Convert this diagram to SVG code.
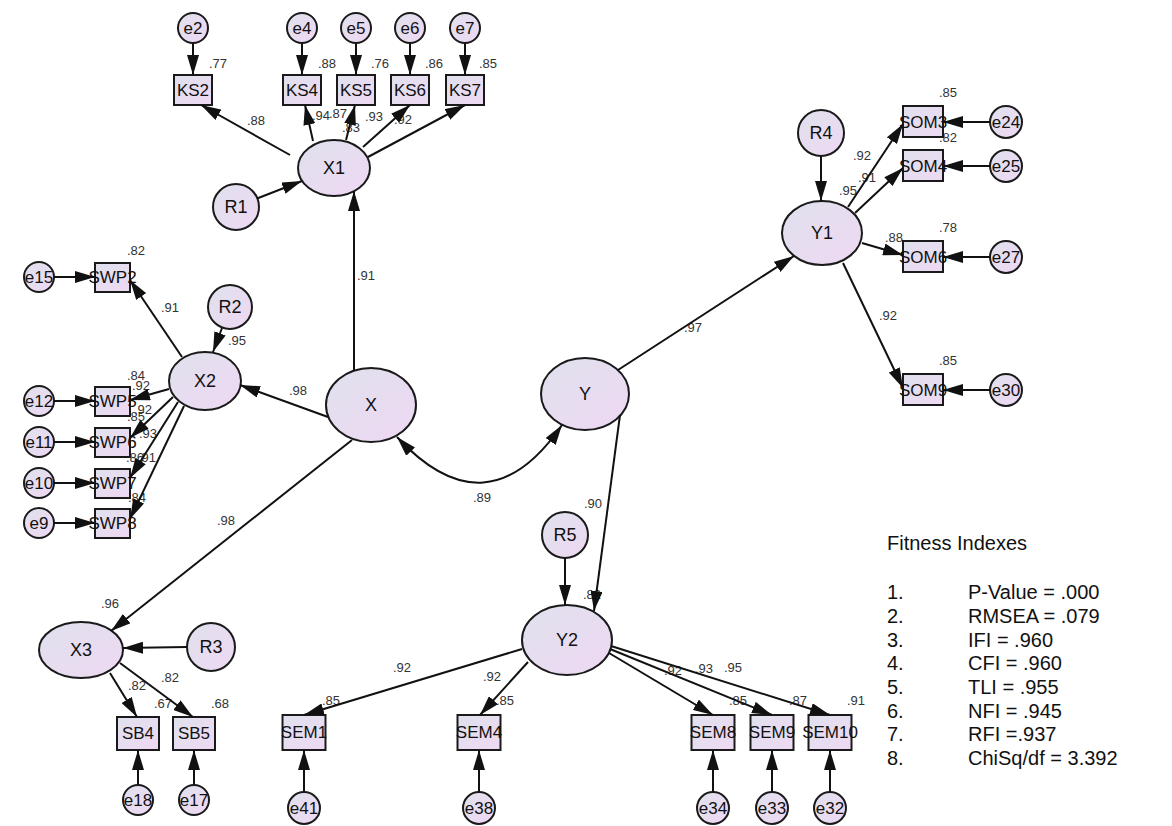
<svg xmlns="http://www.w3.org/2000/svg" width="1172" height="826" viewBox="0 0 1172 826">
<defs>
<linearGradient id="g" x1="0" y1="0" x2="1" y2="1">
<stop offset="0" stop-color="#e0e1ed"/>
<stop offset="1" stop-color="#eed8f3"/>
</linearGradient>
<marker id="arr" markerUnits="userSpaceOnUse" markerWidth="20" markerHeight="12" refX="20" refY="6" orient="auto-start-reverse" viewBox="0 0 20 12">
<path d="M0,0 L20,6 L0,12 z" fill="#111"/>
</marker>
<style>
.sh{fill:url(#g);stroke:#1a1a1a;stroke-width:2}
.nt{font-family:"Liberation Sans",Arial,sans-serif;font-size:17px;text-anchor:middle;fill:#111}
.lt{font-family:"Liberation Sans",Arial,sans-serif;font-size:18px;text-anchor:middle;fill:#111}
.lb{font-family:"Liberation Sans",Arial,sans-serif;font-size:13px;text-anchor:middle;fill:#333}
.fi{font-family:"Liberation Sans",Arial,sans-serif;font-size:20px;fill:#111}
.c{stroke:#111;stroke-width:2;fill:none;marker-end:url(#arr)}
</style>
</defs>
<rect width="1172" height="826" fill="#fff"/>

<g id="labels">
<text class="lb" x="218" y="68">.77</text>
<text class="lb" x="327" y="68">.88</text>
<text class="lb" x="380" y="68">.76</text>
<text class="lb" x="434" y="68">.86</text>
<text class="lb" x="488" y="68">.85</text>
<text class="lb" x="256" y="125">.88</text>
<text class="lb" x="321" y="120">.94</text>
<text class="lb" x="338" y="118">.87</text>
<text class="lb" x="351" y="132">.83</text>
<text class="lb" x="374" y="121">.93</text>
<text class="lb" x="403" y="124">.92</text>
<text class="lb" x="366" y="280">.91</text>
<text class="lb" x="298" y="395">.98</text>
<text class="lb" x="237" y="345">.95</text>
<text class="lb" x="170" y="312">.91</text>
<text class="lb" x="136" y="255">.82</text>
<text class="lb" x="136" y="380">.84</text>
<text class="lb" x="141" y="390">.92</text>
<text class="lb" x="143" y="414">.92</text>
<text class="lb" x="136" y="421">.85</text>
<text class="lb" x="148" y="438">.93</text>
<text class="lb" x="135" y="462">.86</text>
<text class="lb" x="147" y="462">.91</text>
<text class="lb" x="137" y="502">.84</text>
<text class="lb" x="226" y="525">.98</text>
<text class="lb" x="110" y="608">.96</text>
<text class="lb" x="137" y="690">.82</text>
<text class="lb" x="170" y="682">.82</text>
<text class="lb" x="163" y="708">.67</text>
<text class="lb" x="220" y="708">.68</text>
<text class="lb" x="482" y="502">.89</text>
<text class="lb" x="593" y="508">.90</text>
<text class="lb" x="592" y="599">.82</text>
<text class="lb" x="693" y="332">.97</text>
<text class="lb" x="848" y="195">.95</text>
<text class="lb" x="862" y="160">.92</text>
<text class="lb" x="867" y="182">.91</text>
<text class="lb" x="894" y="242">.88</text>
<text class="lb" x="888" y="320">.92</text>
<text class="lb" x="948" y="97">.85</text>
<text class="lb" x="948" y="142">.82</text>
<text class="lb" x="948" y="232">.78</text>
<text class="lb" x="948" y="365">.85</text>
<text class="lb" x="402" y="672">.92</text>
<text class="lb" x="331" y="705">.85</text>
<text class="lb" x="492" y="681">.92</text>
<text class="lb" x="505" y="705">.85</text>
<text class="lb" x="673" y="675">.92</text>
<text class="lb" x="704" y="673">.93</text>
<text class="lb" x="733" y="672">.95</text>
<text class="lb" x="738" y="705">.85</text>
<text class="lb" x="798" y="705">.87</text>
<text class="lb" x="856" y="705">.91</text>
</g>

<g id="n-e2"><circle class="sh" cx="193" cy="28" r="15"/><text class="nt" x="193" y="34">e2</text></g>
<g id="n-e4"><circle class="sh" cx="302" cy="28" r="15"/><text class="nt" x="302" y="34">e4</text></g>
<g id="n-e5"><circle class="sh" cx="356" cy="28" r="15"/><text class="nt" x="356" y="34">e5</text></g>
<g id="n-e6"><circle class="sh" cx="410" cy="28" r="15"/><text class="nt" x="410" y="34">e6</text></g>
<g id="n-e7"><circle class="sh" cx="465" cy="28" r="15"/><text class="nt" x="465" y="34">e7</text></g>
<g id="n-KS2"><rect class="sh" x="174" y="75" width="38" height="30"/><text class="nt" x="193" y="96">KS2</text></g>
<g id="n-KS4"><rect class="sh" x="283" y="75" width="38" height="30"/><text class="nt" x="302" y="96">KS4</text></g>
<g id="n-KS5"><rect class="sh" x="337" y="75" width="38" height="30"/><text class="nt" x="356" y="96">KS5</text></g>
<g id="n-KS6"><rect class="sh" x="391" y="75" width="38" height="30"/><text class="nt" x="410" y="96">KS6</text></g>
<g id="n-KS7"><rect class="sh" x="446" y="75" width="38" height="30"/><text class="nt" x="465" y="96">KS7</text></g>
<g id="n-X1"><ellipse class="sh" cx="334" cy="168" rx="36" ry="28"/><text class="lt" x="334" y="174">X1</text></g>
<g id="n-R1"><circle class="sh" cx="236" cy="207" r="23"/><text class="lt" x="236" y="213">R1</text></g>
<g id="n-X"><ellipse class="sh" cx="371" cy="405" rx="45" ry="37"/><text class="lt" x="371" y="411">X</text></g>
<g id="n-X2"><ellipse class="sh" cx="205" cy="381" rx="36" ry="29"/><text class="lt" x="205" y="387">X2</text></g>
<g id="n-R2"><circle class="sh" cx="230" cy="307" r="22"/><text class="lt" x="230" y="313">R2</text></g>
<g id="n-SWP2"><rect class="sh" x="95" y="263" width="35" height="29"/><text class="nt" x="112.5" y="283">SWP2</text></g>
<g id="n-SWP5"><rect class="sh" x="95" y="387" width="35" height="29"/><text class="nt" x="112.5" y="407">SWP5</text></g>
<g id="n-SWP6"><rect class="sh" x="95" y="428" width="35" height="29"/><text class="nt" x="112.5" y="448">SWP6</text></g>
<g id="n-SWP7"><rect class="sh" x="95" y="469" width="35" height="29"/><text class="nt" x="112.5" y="489">SWP7</text></g>
<g id="n-SWP8"><rect class="sh" x="95" y="509" width="35" height="29"/><text class="nt" x="112.5" y="529">SWP8</text></g>
<g id="n-e15"><circle class="sh" cx="39" cy="277" r="15"/><text class="nt" x="39" y="283">e15</text></g>
<g id="n-e12"><circle class="sh" cx="39" cy="401" r="15"/><text class="nt" x="39" y="407">e12</text></g>
<g id="n-e11"><circle class="sh" cx="39" cy="442" r="15"/><text class="nt" x="39" y="448">e11</text></g>
<g id="n-e10"><circle class="sh" cx="39" cy="483" r="15"/><text class="nt" x="39" y="489">e10</text></g>
<g id="n-e9"><circle class="sh" cx="39" cy="523" r="15"/><text class="nt" x="39" y="529">e9</text></g>
<g id="n-X3"><ellipse class="sh" cx="81" cy="650" rx="42" ry="28"/><text class="lt" x="81" y="656">X3</text></g>
<g id="n-R3"><circle class="sh" cx="211" cy="647" r="24"/><text class="lt" x="211" y="653">R3</text></g>
<g id="n-SB4"><rect class="sh" x="117" y="717" width="42" height="33"/><text class="nt" x="138" y="739">SB4</text></g>
<g id="n-SB5"><rect class="sh" x="173" y="717" width="42" height="33"/><text class="nt" x="194" y="739">SB5</text></g>
<g id="n-e18"><circle class="sh" cx="138" cy="800" r="15"/><text class="nt" x="138" y="806">e18</text></g>
<g id="n-e17"><circle class="sh" cx="194" cy="800" r="15"/><text class="nt" x="194" y="806">e17</text></g>
<g id="n-Y"><ellipse class="sh" cx="585" cy="394" rx="44" ry="36"/><text class="lt" x="585" y="400">Y</text></g>
<g id="n-Y1"><ellipse class="sh" cx="822" cy="233" rx="40" ry="32"/><text class="lt" x="822" y="239">Y1</text></g>
<g id="n-R4"><circle class="sh" cx="821" cy="133" r="23"/><text class="lt" x="821" y="139">R4</text></g>
<g id="n-SOM3"><rect class="sh" x="903" y="106" width="40" height="31"/><text class="nt" x="923" y="128">SOM3</text></g>
<g id="n-SOM4"><rect class="sh" x="903" y="150" width="40" height="31"/><text class="nt" x="923" y="172">SOM4</text></g>
<g id="n-SOM6"><rect class="sh" x="903" y="241" width="40" height="31"/><text class="nt" x="923" y="263">SOM6</text></g>
<g id="n-SOM9"><rect class="sh" x="903" y="374" width="40" height="31"/><text class="nt" x="923" y="396">SOM9</text></g>
<g id="n-e24"><circle class="sh" cx="1006" cy="122" r="16"/><text class="nt" x="1006" y="128">e24</text></g>
<g id="n-e25"><circle class="sh" cx="1006" cy="166" r="16"/><text class="nt" x="1006" y="172">e25</text></g>
<g id="n-e27"><circle class="sh" cx="1006" cy="257" r="16"/><text class="nt" x="1006" y="263">e27</text></g>
<g id="n-e30"><circle class="sh" cx="1006" cy="390" r="16"/><text class="nt" x="1006" y="396">e30</text></g>
<g id="n-Y2"><ellipse class="sh" cx="567" cy="640" rx="45" ry="35"/><text class="lt" x="567" y="646">Y2</text></g>
<g id="n-R5"><circle class="sh" cx="565" cy="535" r="23"/><text class="lt" x="565" y="541">R5</text></g>
<g id="n-SEM1"><rect class="sh" x="282.5" y="715" width="43" height="35"/><text class="nt" x="304" y="738">SEM1</text></g>
<g id="n-SEM4"><rect class="sh" x="457.5" y="715" width="43" height="35"/><text class="nt" x="479" y="738">SEM4</text></g>
<g id="n-SEM8"><rect class="sh" x="691.5" y="715" width="43" height="35"/><text class="nt" x="713" y="738">SEM8</text></g>
<g id="n-SEM9"><rect class="sh" x="750.5" y="715" width="43" height="35"/><text class="nt" x="772" y="738">SEM9</text></g>
<g id="n-SEM10"><rect class="sh" x="808.5" y="715" width="43" height="35"/><text class="nt" x="830" y="738">SEM10</text></g>
<g id="n-e41"><circle class="sh" cx="304" cy="808" r="16"/><text class="nt" x="304" y="814">e41</text></g>
<g id="n-e38"><circle class="sh" cx="479" cy="808" r="16"/><text class="nt" x="479" y="814">e38</text></g>
<g id="n-e34"><circle class="sh" cx="713" cy="808" r="16"/><text class="nt" x="713" y="814">e34</text></g>
<g id="n-e33"><circle class="sh" cx="772" cy="808" r="16"/><text class="nt" x="772" y="814">e33</text></g>
<g id="n-e32"><circle class="sh" cx="830" cy="808" r="16"/><text class="nt" x="830" y="814">e32</text></g>

<g id="connectors">
<line class="c" x1="193" y1="43" x2="193" y2="75"/>
<line class="c" x1="302" y1="43" x2="302" y2="75"/>
<line class="c" x1="356" y1="43" x2="356" y2="75"/>
<line class="c" x1="410" y1="43" x2="410" y2="75"/>
<line class="c" x1="465" y1="43" x2="465" y2="75"/>
<line class="c" x1="290" y1="155" x2="201" y2="105"/>
<line class="c" x1="313" y1="141" x2="305" y2="105"/>
<line class="c" x1="346" y1="140" x2="355" y2="105"/>
<line class="c" x1="363" y1="147" x2="410" y2="105"/>
<line class="c" x1="368" y1="157" x2="465" y2="105"/>
<line class="c" x1="257" y1="198.5" x2="302" y2="181"/>
<line class="c" x1="354" y1="371" x2="354" y2="191"/>
<line class="c" x1="328" y1="417" x2="240" y2="385"/>
<line class="c" x1="352" y1="440" x2="111" y2="631"/>
<line class="c" x1="222" y1="328" x2="213" y2="352"/>
<line class="c" x1="182" y1="357" x2="130" y2="280"/>
<line class="c" x1="169" y1="389" x2="130" y2="400"/>
<line class="c" x1="173" y1="397" x2="130" y2="438"/>
<line class="c" x1="178" y1="402" x2="130" y2="478"/>
<line class="c" x1="184" y1="406" x2="130" y2="519"/>
<line class="c" x1="54" y1="277" x2="95" y2="277"/>
<line class="c" x1="54" y1="401" x2="95" y2="401"/>
<line class="c" x1="54" y1="442" x2="95" y2="442"/>
<line class="c" x1="54" y1="483" x2="95" y2="483"/>
<line class="c" x1="54" y1="523" x2="95" y2="523"/>
<line class="c" x1="187" y1="647" x2="123" y2="648"/>
<line class="c" x1="110" y1="673" x2="137" y2="717"/>
<line class="c" x1="120" y1="663" x2="193" y2="717"/>
<line class="c" x1="138" y1="785" x2="138" y2="750"/>
<line class="c" x1="194" y1="785" x2="194" y2="750"/>
<path class="c" style="marker-start:url(#arr)" d="M397,437 Q487,534 562,425"/>
<line class="c" x1="618" y1="370" x2="794" y2="256"/>
<line class="c" x1="821" y1="156" x2="821" y2="201"/>
<line class="c" x1="848" y1="207" x2="903" y2="124"/>
<line class="c" x1="855" y1="213" x2="903" y2="168"/>
<line class="c" x1="862" y1="243" x2="903" y2="255"/>
<line class="c" x1="843" y1="263" x2="903" y2="388"/>
<line class="c" x1="990" y1="122" x2="943" y2="122"/>
<line class="c" x1="990" y1="166" x2="943" y2="166"/>
<line class="c" x1="990" y1="257" x2="943" y2="257"/>
<line class="c" x1="990" y1="390" x2="943" y2="390"/>
<line class="c" x1="620" y1="415" x2="594" y2="611"/>
<line class="c" x1="565" y1="558" x2="565" y2="605"/>
<line class="c" x1="522" y1="649" x2="304" y2="715"/>
<line class="c" x1="528" y1="662" x2="480" y2="715"/>
<line class="c" x1="609" y1="653" x2="713" y2="715"/>
<line class="c" x1="610" y1="649" x2="772" y2="715"/>
<line class="c" x1="611" y1="646" x2="830" y2="715"/>
<line class="c" x1="304" y1="792" x2="304" y2="750"/>
<line class="c" x1="479" y1="792" x2="479" y2="750"/>
<line class="c" x1="713" y1="792" x2="713" y2="750"/>
<line class="c" x1="772" y1="792" x2="772" y2="750"/>
<line class="c" x1="830" y1="792" x2="830" y2="750"/>
</g>

<g id="fitness">
<text class="fi" x="887" y="550">Fitness Indexes</text>
<text class="fi" x="887" y="599">1.</text><text class="fi" x="968" y="599">P-Value = .000</text>
<text class="fi" x="887" y="623">2.</text><text class="fi" x="968" y="623">RMSEA = .079</text>
<text class="fi" x="887" y="647">3.</text><text class="fi" x="968" y="647">IFI = .960</text>
<text class="fi" x="887" y="670">4.</text><text class="fi" x="968" y="670">CFI = .960</text>
<text class="fi" x="887" y="694">5.</text><text class="fi" x="968" y="694">TLI = .955</text>
<text class="fi" x="887" y="718">6.</text><text class="fi" x="968" y="718">NFI = .945</text>
<text class="fi" x="887" y="741">7.</text><text class="fi" x="968" y="741">RFI =.937</text>
<text class="fi" x="887" y="765">8.</text><text class="fi" x="968" y="765">ChiSq/df = 3.392</text>
</g>
</svg>
